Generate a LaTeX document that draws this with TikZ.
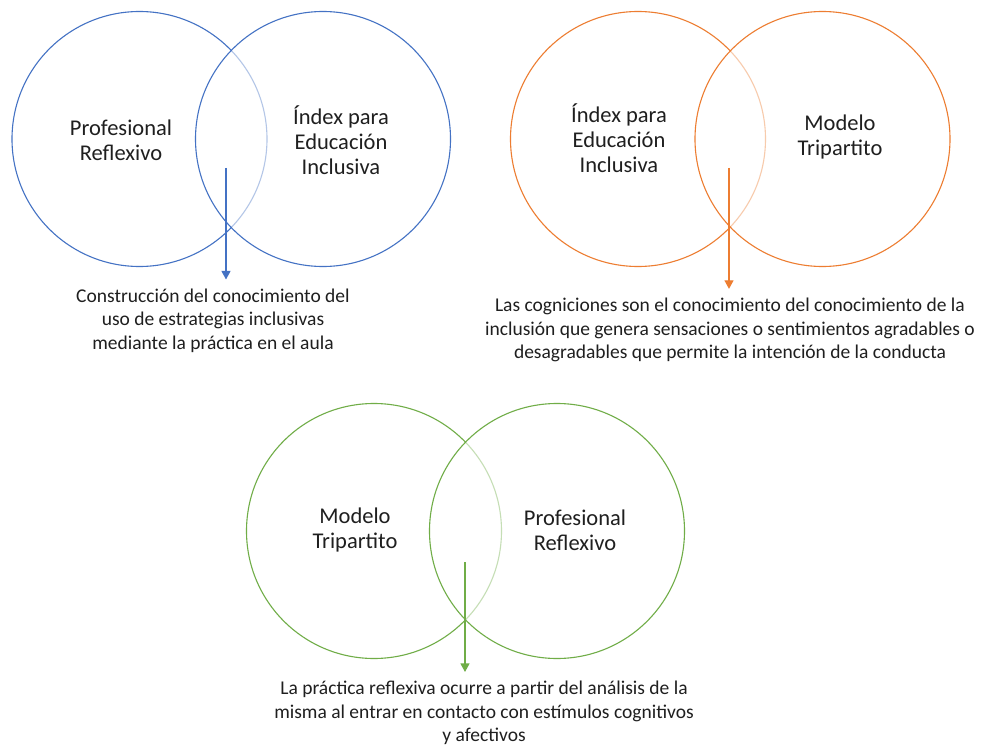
\documentclass[tikz,border=0pt]{standalone}
\usepackage{fontspec}
\setmainfont{Carlito}
\usetikzlibrary{arrows.meta}
\definecolor{cblue}{HTML}{4472C4}
\definecolor{corange}{HTML}{ED7D31}
\definecolor{cgreen}{HTML}{70AD47}
\definecolor{txt}{HTML}{1F1F1F}
\begin{document}
\begin{tikzpicture}[x=1pt,y=-1pt,
  venn/.style={circle, minimum size=255pt, inner sep=0pt, line width=1.1pt},
  vennR/.style={venn, fill=white, fill opacity=0.6, text opacity=1},
  lbl/.style={align=center, inner sep=0pt, text=txt, font=\fontsize{22.5}{25}\selectfont},
  desc/.style={align=center, inner sep=0pt, text=txt, font=\fontsize{19.5}{23.5}\selectfont},
  arr/.style={line width=1.1pt, shorten >=9pt, -{Triangle[width=9pt,length=8.5pt]}}]
\useasboundingbox[fill=white] (0,0) rectangle (983,749);
% blue
\node[venn, draw=cblue] (b1) at (139.5,139) {};
\node[vennR, draw=cblue] (b2) at (323,139) {};
\node[lbl] (bl1) at (121,140.5) {Profesional\\Reflexivo};
\node[lbl] (bl2) at (341,140.5) {Índex para\\Educación\\Inclusiva};
\node[desc] (bt) at (213,320.5) {Construcción del conocimiento del\\uso de estrategias inclusivas\\mediante la práctica en el aula};
\coordinate (bs) at (226,168);
\draw[arr, cblue] (bs) -- (bs |- bt.north);
% orange
\node[venn, draw=corange] (o1) at (638,139) {};
\node[vennR, draw=corange] (o2) at (822.5,139) {};
\node[lbl] (ol1) at (619,138) {Índex para\\Educación\\Inclusiva};
\node[lbl] (ol2) at (840,137) {Modelo\\Tripartito};
\node[desc] (ot) at (730,330) {Las cogniciones son el conocimiento del conocimiento de la\\inclusión que genera sensaciones o sentimientos agradables o\\desagradables que permite la intención de la conducta};
\coordinate (os) at (729,168);
\draw[arr, corange] (os) -- (os |- ot.north);
% green
\node[venn, draw=cgreen] (g1) at (374,531) {};
\node[vennR, draw=cgreen] (g2) at (557,531) {};
\node[lbl] (gl1) at (355,530) {Modelo\\Tripartito};
\node[lbl] (gl2) at (575,530) {Profesional\\Reflexivo};
\node[desc] (gt) at (484,713) {La práctica reflexiva ocurre a partir del análisis de la\\misma al entrar en contacto con estímulos cognitivos\\y afectivos};
\coordinate (gs) at (465,562);
\draw[arr, cgreen] (gs) -- (gs |- gt.north);
\end{tikzpicture}
\end{document}
